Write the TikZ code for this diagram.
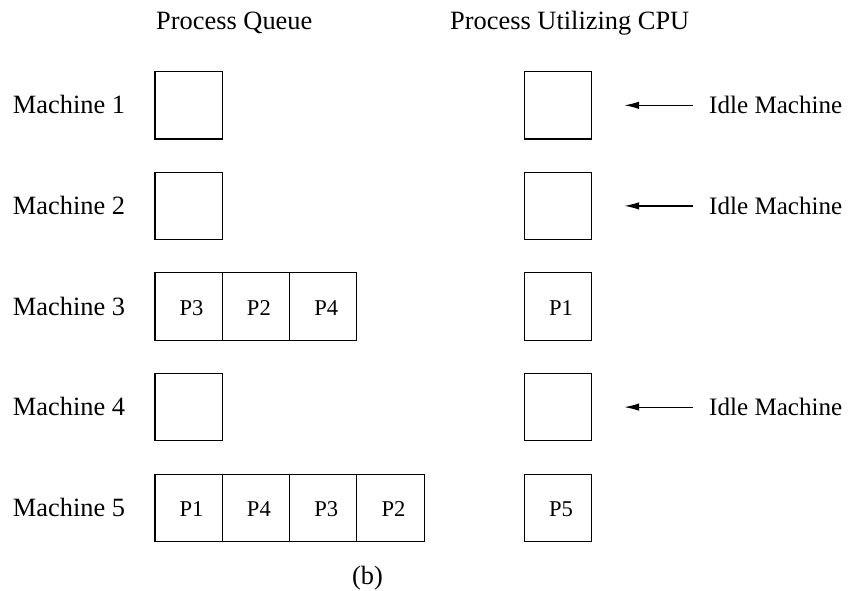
\documentclass[tikz,border=0pt]{standalone}
\usepackage{fontspec}
\setmainfont{Liberation Serif}
\usetikzlibrary{arrows.meta}
\begin{document}
\begin{tikzpicture}[x=1pt,y=-1pt,
  txt/.style={font=\fontsize{26.4}{30}\selectfont, inner sep=0pt},
  idletxt/.style={font=\fontsize{25.1}{29}\selectfont, inner sep=0pt},
  ptxt/.style={font=\fontsize{22.6}{26}\selectfont, inner sep=0pt, anchor=base},
  cell/.style={draw, line width=1.1pt, minimum width=67.3pt, minimum height=67.3pt, inner sep=0pt},
  arr/.style={-{Latex[length=15pt,width=7.5pt]}, line width=1.2pt}]
\useasboundingbox (0,0) rectangle (848,590);

% column headings
\node[txt, anchor=base west] (hq) at (156,29) {Process Queue};
\node[txt, anchor=base west] (hc) at (450,29) {Process Utilizing CPU};

% rows: y centre of each machine
\foreach \r/\y in {1/105.3, 2/205.9, 3/306.5, 4/407.1, 5/507.7} {
  \node[txt, anchor=base west] (m\r) at (12.7,\y+8.5) {Machine \r};
  \node[cell] (c\r) at (558,\y) {};
}

% process queues
\node[cell] (q1a) at (188.6,105.3) {};
\node[cell] (q2a) at (188.6,205.9) {};
\node[cell] (q4a) at (188.6,407.1) {};

\foreach \i/\x/\p in {a/188.6/P3, b/255.9/P2, c/323.2/P4} {
  \node[cell] (q3\i) at (\x,306.5) {};
  \node[ptxt] (q3\i t) at ([xshift=3pt,yshift=-8.5pt]q3\i.center) {\p};
}
\foreach \i/\x/\p in {a/188.6/P1, b/255.9/P4, c/323.2/P3, d/390.5/P2} {
  \node[cell] (q5\i) at (\x,507.7) {};
  \node[ptxt] (q5\i t) at ([xshift=3pt,yshift=-8.5pt]q5\i.center) {\p};
}

% processes on the CPU
\node[ptxt] (c3t) at ([xshift=3pt,yshift=-8.5pt]c3.center) {P1};
\node[ptxt] (c5t) at ([xshift=3pt,yshift=-8.5pt]c5.center) {P5};

% idle markers
\foreach \r in {1,2,4} {
  \node[idletxt, anchor=base west] (idle\r) at ([yshift=-8.5pt]709,0 |- c\r.center) {Idle Machine};
  \coordinate (s\r) at ([xshift=-16.3pt]idle\r.west |- c\r.center);
  \draw[arr] (s\r) -- ([xshift=32pt]c\r.east);
}

% caption
\node[txt, anchor=base west] (cap) at (352,584) {(b)};
\end{tikzpicture}
\end{document}
